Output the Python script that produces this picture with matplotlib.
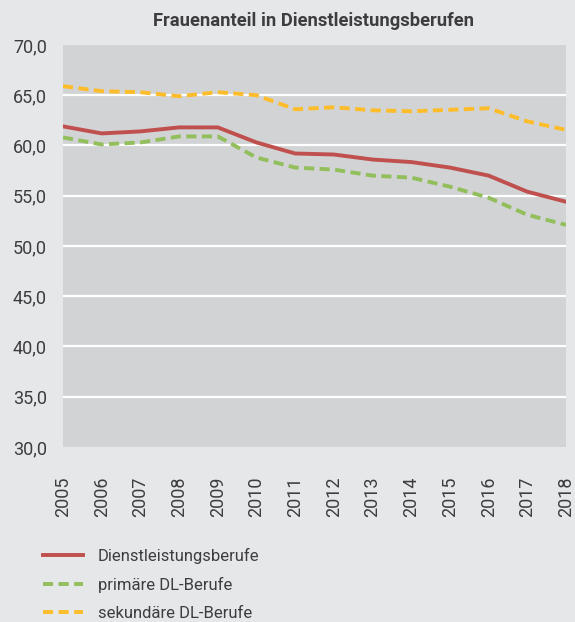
import matplotlib

matplotlib.use("Agg")
import matplotlib.pyplot as plt

# --- Data ---
YEARS = list(range(2005, 2019))
DL_BERUFE = [61.9, 61.2, 61.4, 61.8, 61.8, 60.3, 59.2, 59.1, 58.6, 58.35, 57.8, 57.0, 55.4, 54.4]
PRIMAER = [60.8, 60.1, 60.3, 60.9, 60.9, 58.8, 57.8, 57.6, 57.0, 56.8, 55.9, 54.8, 53.1, 52.1]
SEKUNDAER = [65.9, 65.4, 65.3, 64.9, 65.3, 65.0, 63.6, 63.8, 63.5, 63.4, 63.55, 63.7, 62.4, 61.55]
Y_TICKS = [30, 35, 40, 45, 50, 55, 60, 65, 70]

# --- Styling ---
FIG_BG = "#e6e7e9"
AX_BG = "#d2d3d5"
TEXT_COLOR = "#3d3d3f"
RED = "#bf504d"
GREEN = "#92bf5b"
YELLOW = "#fdbd2b"
FONT = ["Roboto", "DejaVu Sans"]


def main():
    plt.rcParams["font.family"] = FONT
    fig = plt.figure(figsize=(5.75, 6.22), dpi=100, facecolor=FIG_BG)
    ax = fig.add_axes([0.1096, 0.2814, 0.8748, 0.6463])
    ax.set_facecolor(AX_BG)

    ax.plot(YEARS, DL_BERUFE, color=RED, lw=2.8, label="Dienstleistungsberufe")
    ax.plot(YEARS, PRIMAER, color=GREEN, lw=2.8, dashes=(2.6, 1.4),
            label="primäre DL-Berufe")
    ax.plot(YEARS, SEKUNDAER, color=YELLOW, lw=2.8, dashes=(2.6, 1.4),
            label="sekundäre DL-Berufe")

    ax.set_xlim(YEARS[0], YEARS[-1])
    ax.set_ylim(Y_TICKS[0], Y_TICKS[-1])
    ax.set_xticks(YEARS)
    ax.set_xticklabels([str(y) for y in YEARS], rotation=90)
    ax.set_yticks(Y_TICKS)
    ax.set_yticklabels([f"{v:.1f}".replace(".", ",") for v in Y_TICKS])

    ax.tick_params(axis="x", length=0, pad=21.5, labelsize=13, colors=TEXT_COLOR)
    ax.tick_params(axis="y", length=0, pad=11.5, labelsize=13, colors=TEXT_COLOR)
    for spine in ax.spines.values():
        spine.set_visible(False)

    ax.yaxis.grid(True, color="white", lw=1.6)
    ax.set_axisbelow(True)
    gridlines = ax.get_ygridlines()
    gridlines[0].set_visible(False)
    gridlines[-1].set_visible(False)

    fig.text(0.545, 0.959, "Frauenanteil in Dienstleistungsberufen",
             ha="center", va="baseline", fontsize=13.2, fontweight="bold",
             color=TEXT_COLOR)

    leg = fig.legend(loc="upper left", bbox_to_anchor=(0.075, 0.119),
                     frameon=False, fontsize=12, handlelength=2.4,
                     handletextpad=0.87, labelspacing=0.77, borderpad=0,
                     borderaxespad=0)
    for text in leg.get_texts():
        text.set_color(TEXT_COLOR)

    fig.savefig("out.png", dpi=100, facecolor=FIG_BG)
    plt.close(fig)


if __name__ == "__main__":
    main()
